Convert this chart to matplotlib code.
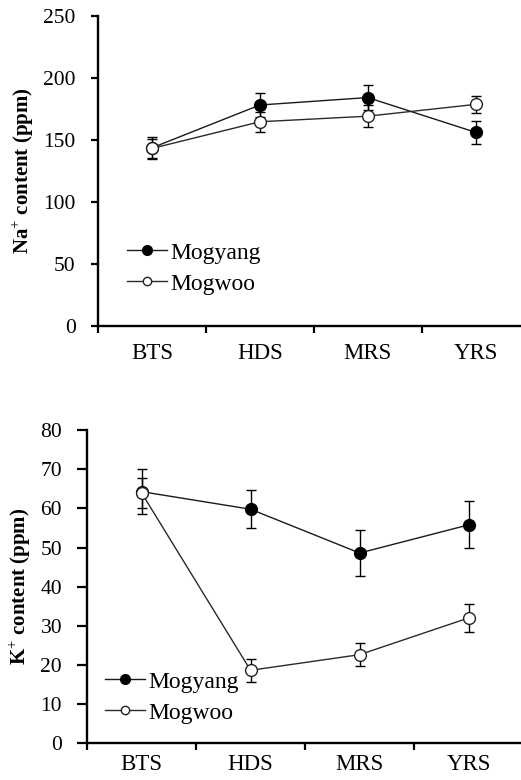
import matplotlib
matplotlib.use("Agg")
import matplotlib.pyplot as plt
from matplotlib.lines import Line2D
import numpy as np

plt.rcParams.update({
    "font.family": ["Liberation Serif", "DejaVu Serif"],
    "font.size": 15,
    "mathtext.fontset": "custom",
    "mathtext.rm": "Liberation Serif",
    "mathtext.bf": "Liberation Serif:bold",
})

stages = ["BTS", "HDS", "MRS", "YRS"]

# Na+ content (ppm)
na_mogyang = [143.5, 178, 184, 156]
na_mogyang_err = [9, 9.5, 10, 9.5]
na_mogwoo = [143, 164.5, 169, 178.5]
na_mogwoo_err = [8, 8, 9, 7]

# K+ content (ppm)
k_mogyang = [64.3, 59.8, 48.6, 55.8]
k_mogyang_err = [5.7, 4.8, 6.0, 6.0]
k_mogwoo = [64.0, 18.6, 22.6, 32.0]
k_mogwoo_err = [3.8, 3.0, 3.0, 3.6]


def draw_panel(ax, yang, yang_err, woo, woo_err, ylim, yticks, ylabel,
               xmax, legend_anchor, ytick_len, xpad):
    x = np.arange(len(stages))
    ax.errorbar(x, yang, yerr=yang_err, color="#1a1a1a", lw=1.0,
                marker="o", ms=8.5, mfc="black", mec="black",
                ecolor="black", elinewidth=1.0, capsize=3.5, capthick=1.0,
                zorder=3)
    ax.errorbar(x, woo, yerr=woo_err, color="#2a2a2a", lw=1.0,
                marker="o", ms=8.5, mfc="white", mec="#222222", mew=1.0,
                ecolor="black", elinewidth=1.0, capsize=3.5, capthick=1.0,
                zorder=3)

    ax.set_xlim(-0.5, xmax)
    ax.set_ylim(*ylim)
    ax.set_yticks(yticks)
    ax.set_xticks(x)
    ax.set_xticklabels(stages)
    ax.set_xticks(np.arange(-0.5, xmax, 1.0), minor=True)
    ax.tick_params(axis="x", which="major", length=0, pad=xpad, labelsize=16.5)
    ax.tick_params(axis="x", which="minor", length=5, width=1.6,
                   direction="out")
    ax.tick_params(axis="y", length=ytick_len, width=1.6, direction="out",
                   labelsize=15.5, pad=11)
    for side in ["top", "right"]:
        ax.spines[side].set_visible(False)
    for side in ["left", "bottom"]:
        ax.spines[side].set_linewidth(1.7)
    ax.set_ylabel(ylabel, fontsize=15, fontweight="bold", labelpad=5)

    handles = [
        Line2D([], [], color="#1a1a1a", lw=1.0, marker="o", ms=7,
               mfc="black", mec="black"),
        Line2D([], [], color="#2a2a2a", lw=1.0, marker="o", ms=6,
               mfc="white", mec="#222222"),
    ]
    ax.legend(handles, ["Mogyang", "Mogwoo"], loc="upper left",
              bbox_to_anchor=legend_anchor, frameon=False,
              fontsize=17, handlelength=1.7, handletextpad=0.15,
              labelspacing=0.4, borderpad=0, borderaxespad=0)


fig = plt.figure(figsize=(5.21, 7.80), dpi=100)

ax1 = fig.add_axes([0.188, 0.582, 0.812, 0.398])
draw_panel(ax1, na_mogyang, na_mogyang_err, na_mogwoo, na_mogwoo_err,
           (0, 250), [0, 50, 100, 150, 200, 250],
           r"Na$^{+}$ content (ppm)", 3.42, (0.068, 0.27), 5, 12)

ax2 = fig.add_axes([0.167, 0.0474, 0.833, 0.401])
draw_panel(ax2, k_mogyang, k_mogyang_err, k_mogwoo, k_mogwoo_err,
           (0, 80), list(range(0, 81, 10)),
           r"K$^{+}$ content (ppm)", 3.48, (0.041, 0.23), 7, 8)

fig.savefig("out.png", dpi=100)
